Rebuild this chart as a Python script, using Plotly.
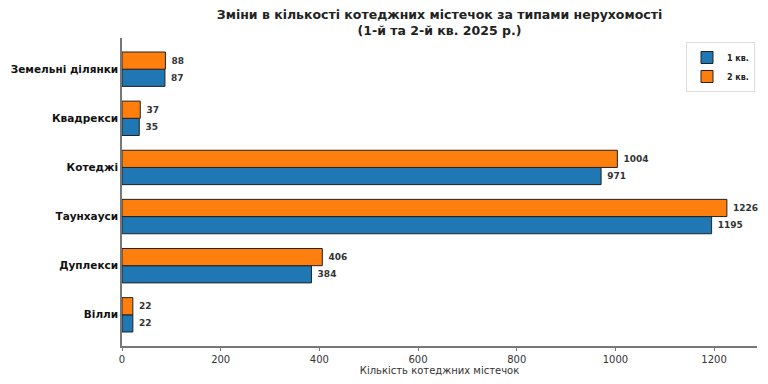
import plotly.graph_objects as go

categories = ["Вілли", "Дуплекси", "Таунхауси", "Котеджі", "Квадрекси", "Земельні ділянки"]
q1_values = [22, 384, 1195, 971, 35, 87]
q2_values = [22, 406, 1226, 1004, 37, 88]
series_names = ["1 кв.", "2 кв."]
x_ticks = [0, 200, 400, 600, 800, 1000, 1200]

FONT = "DejaVu Sans"
BAR_H = 0.35
pos = list(range(len(categories)))

fig = go.Figure()
for name, vals, color, off in [
    (series_names[0], q1_values, "#1f77b4", -BAR_H / 2),
    (series_names[1], q2_values, "#ff7f0e", BAR_H / 2),
]:
    fig.add_trace(go.Bar(
        x=vals,
        y=[p + off for p in pos],
        orientation="h",
        width=BAR_H,
        name=name,
        marker=dict(color=color, line=dict(color="#222222", width=1)),
        text=[str(v) for v in vals],
        texttemplate="&nbsp;%{text}",
        textposition="outside",
        cliponaxis=False,
        textfont=dict(family=FONT, size=9, color="#333333", weight="bold"),
        hoverinfo="skip",
    ))

fig.update_layout(
    width=768, height=384,
    barmode="overlay",
    plot_bgcolor="white", paper_bgcolor="white",
    margin=dict(l=122, r=11, t=38, b=38, autoexpand=False),
    font=dict(family=FONT, color="#222222"),
    title=dict(
        text="<b>Зміни в кількості котеджних містечок за типами нерухомості<br>(1-й та 2-й кв. 2025 р.)</b>",
        x=(122 + 757) / 2 / 768, xanchor="center", xref="container",
        y=1 - 19 / 384, yanchor="middle", yref="container",
        font=dict(family=FONT, size=12.5, color="#222222"),
    ),
    legend=dict(
        x=755 / 768, y=1 - 42 / 384, xanchor="right", yanchor="top",
        xref="container", yref="container",
        bgcolor="rgba(255,255,255,0.9)", bordercolor="#dddddd", borderwidth=1,
        font=dict(family=FONT, size=8, color="#222222", weight="bold"),
        traceorder="normal", itemwidth=30, tracegroupgap=0,
    ),
    xaxis=dict(
        range=[0, 1287], tickvals=x_ticks, automargin=False,
        showgrid=False, zeroline=False,
        showline=True, linecolor="#777777", linewidth=1.5,
        ticks="outside", ticklen=3, tickcolor="#777777",
        tickfont=dict(family=FONT, size=10, color="#333333"),
        title=dict(text="Кількість котеджних містечок", font=dict(family=FONT, size=10, color="#333333"), standoff=1),
    ),
    yaxis=dict(
        range=[-0.635, 5.635], tickvals=pos, ticktext=categories, automargin=False,
        showgrid=False, zeroline=False,
        showline=True, linecolor="#777777", linewidth=1.5,
        ticks="outside", ticklen=0,
        tickfont=dict(family=FONT, size=10.5, color="#111111", weight="bold"),
    ),
)

fig.write_html("out.html", config={"displayModeBar": False},
               post_script="document.body.style.margin='0px';")
